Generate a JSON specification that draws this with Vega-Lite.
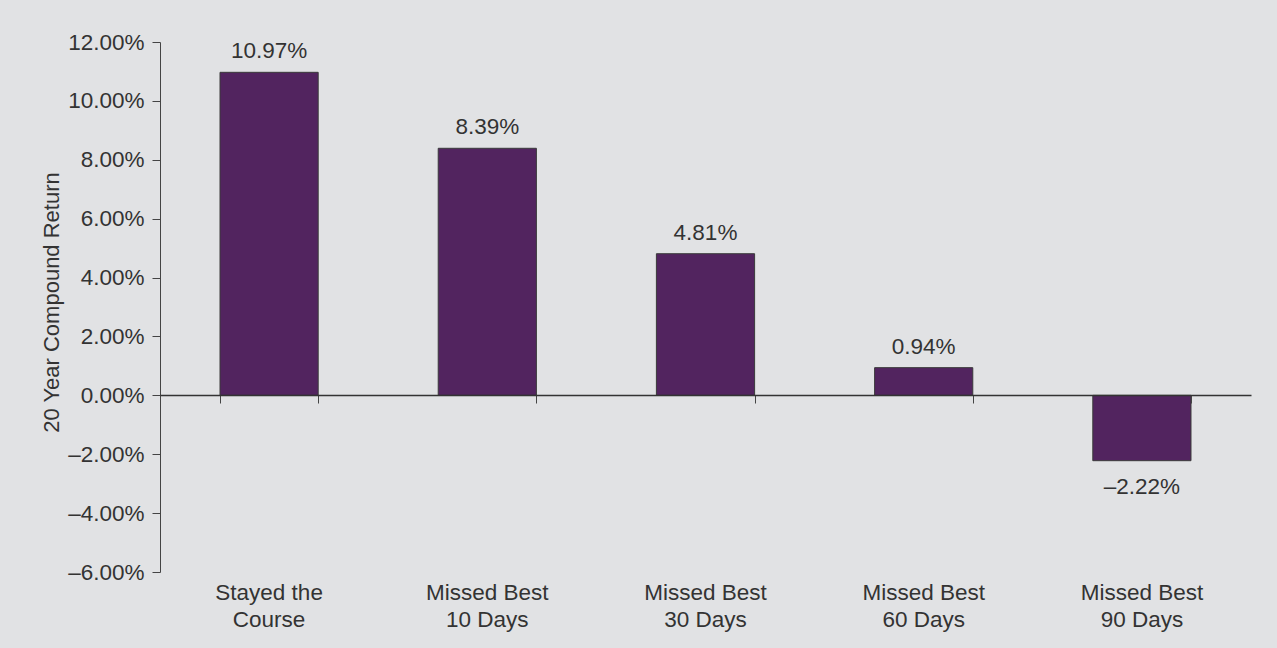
{
  "$schema": "https://vega.github.io/schema/vega-lite/v6.json",
  "width": 1091,
  "height": 530,
  "autosize": {"type": "none"},
  "padding": {"left": 160, "top": 42, "right": 26, "bottom": 76},
  "background": "#e1e2e4",
  "config": {
    "view": {"stroke": null},
    "font": "Liberation Sans",
    "locale": {
      "number": {
        "decimal": ".",
        "thousands": ",",
        "grouping": [3],
        "currency": ["$", ""],
        "minus": "–"
      }
    }
  },
  "data": {
    "values": [
      {"strategy": "Stayed the Course", "value": 0.1097},
      {"strategy": "Missed Best 10 Days", "value": 0.0839},
      {"strategy": "Missed Best 30 Days", "value": 0.0481},
      {"strategy": "Missed Best 60 Days", "value": 0.0094},
      {"strategy": "Missed Best 90 Days", "value": -0.0222}
    ]
  },
  "encoding": {
    "x": {
      "field": "strategy",
      "type": "nominal",
      "sort": null,
      "scale": {"paddingInner": 0.55, "paddingOuter": 0.275}
    },
    "y": {
      "field": "value",
      "type": "quantitative",
      "scale": {"domain": [-0.06, 0.12], "nice": false, "zero": false}
    }
  },
  "layer": [
    {
      "mark": {"type": "bar", "color": "#52245f", "stroke": "#3a3a3a", "strokeWidth": 1},
      "encoding": {
        "x": {
          "field": "strategy",
          "type": "nominal",
          "sort": null,
          "axis": {
            "orient": "bottom",
            "title": null,
            "domain": false,
            "ticks": false,
            "labelAngle": 0,
            "labelPadding": 9,
            "labelFontSize": 22.5,
            "labelColor": "#333333",
            "labelLineHeight": 27,
            "labelBaseline": "top",
            "labelExpr": "datum.label == 'Stayed the Course' ? ['Stayed the', 'Course'] : ['Missed Best', slice(datum.label, 12)]"
          }
        },
        "y": {
          "field": "value",
          "type": "quantitative",
          "axis": {
            "title": "20 Year Compound Return",
            "titleFontSize": 22,
            "titleFontWeight": "normal",
            "titleColor": "#333333",
            "titleX": -97,
            "titleY": 260,
            "values": [-0.06, -0.04, -0.02, 0, 0.02, 0.04, 0.06, 0.08, 0.1, 0.12],
            "format": ".2%",
            "grid": false,
            "domainColor": "#444444",
            "tickColor": "#444444",
            "tickSize": 8,
            "labelPadding": 8,
            "labelFontSize": 22.5,
            "labelColor": "#333333"
          }
        }
      }
    },
    {
      "transform": [{"filter": "datum.value >= 0"}],
      "mark": {"type": "text", "baseline": "bottom", "dy": -9, "fontSize": 22.5, "color": "#333333"},
      "encoding": {
        "x": {
          "field": "strategy",
          "type": "nominal",
          "sort": null,
          "axis": {
            "orient": "bottom",
            "offset": -177,
            "title": null,
            "labels": false,
            "tickBand": "extent",
            "tickSize": 8,
            "tickColor": "#444444",
            "domainColor": "#333333",
            "domainWidth": 1.5,
            "zindex": 2
          }
        },
        "text": {"field": "value", "type": "quantitative", "format": ".2%"}
      }
    },
    {
      "transform": [{"filter": "datum.value < 0"}],
      "mark": {"type": "text", "baseline": "top", "dy": 15, "fontSize": 22.5, "color": "#333333"},
      "encoding": {
        "x": {"field": "strategy", "type": "nominal", "sort": null, "axis": null},
        "text": {"field": "value", "type": "quantitative", "format": ".2%"}
      }
    }
  ],
  "resolve": {"axis": {"x": "independent"}}
}
